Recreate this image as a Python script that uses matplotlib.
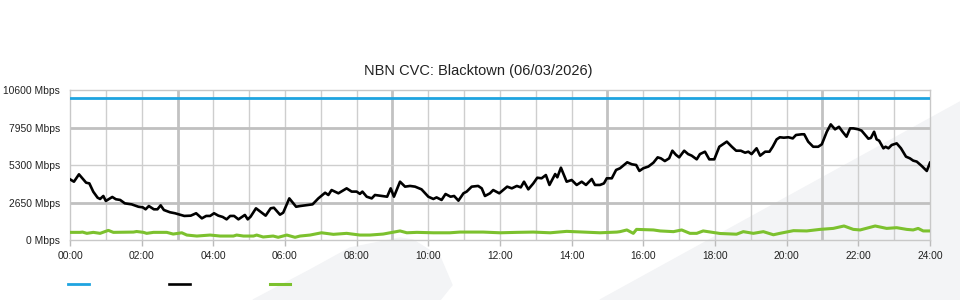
import matplotlib
matplotlib.use("Agg")
import matplotlib.pyplot as plt
from matplotlib.patches import Polygon
import numpy as np

plt.rcParams['font.family'] = ['Liberation Sans', 'DejaVu Sans']

# capacity line (Mbps)
capacity = 10000

# download traffic: hour of day, Mbps
dl_hours = [0.00, 0.11, 0.25, 0.45, 0.54, 0.65, 0.77, 0.84, 0.93, 1.00, 1.18, 1.28, 1.40, 1.53,
            1.72, 1.91, 2.03, 2.11, 2.20, 2.34, 2.44, 2.53, 2.62, 2.79, 2.93, 3.07, 3.19, 3.37,
            3.52, 3.68, 3.80, 3.91, 4.02, 4.14, 4.26, 4.37, 4.47, 4.58, 4.70, 4.88, 4.96, 5.04,
            5.19, 5.30, 5.46, 5.60, 5.69, 5.86, 5.95, 6.12, 6.31, 6.42, 6.77, 6.93, 7.12, 7.21,
            7.30, 7.49, 7.72, 7.86, 8.00, 8.09, 8.16, 8.28, 8.42, 8.51, 8.70, 8.85, 8.95, 9.04,
            9.21, 9.35, 9.49, 9.63, 9.81, 10.00, 10.14, 10.23, 10.37, 10.48, 10.62, 10.72, 10.84,
            10.98, 11.07, 11.21, 11.39, 11.49, 11.58, 11.72, 11.81, 11.98, 12.06, 12.20, 12.33,
            12.47, 12.58, 12.67, 12.79, 12.93, 13.04, 13.16, 13.28, 13.38, 13.54, 13.60, 13.70,
            13.86, 14.00, 14.14, 14.28, 14.40, 14.56, 14.65, 14.79, 14.90, 14.98, 15.12, 15.24,
            15.35, 15.55, 15.68, 15.80, 15.89, 16.00, 16.14, 16.28, 16.40, 16.49, 16.60, 16.72,
            16.81, 16.91, 17.00, 17.14, 17.25, 17.35, 17.49, 17.58, 17.72, 17.84, 17.98, 18.12,
            18.33, 18.47, 18.59, 18.72, 18.84, 18.93, 19.02, 19.16, 19.26, 19.40, 19.52, 19.61,
            19.72, 19.81, 19.92, 20.05, 20.17, 20.26, 20.42, 20.49, 20.60, 20.74, 20.88, 20.98,
            21.12, 21.23, 21.35, 21.46, 21.56, 21.67, 21.77, 21.86, 22.00, 22.09, 22.28, 22.35,
            22.44, 22.51, 22.58, 22.70, 22.76, 22.84, 22.93, 23.07, 23.19, 23.33, 23.44, 23.53,
            23.63, 23.77, 23.91, 24.00]
dl_mbps = [4290, 4120, 4640, 4050, 4000, 3410, 2990, 2900, 3110, 2760, 3040, 2880, 2830, 2590,
           2520, 2350, 2310, 2170, 2400, 2170, 2170, 2450, 2120, 1960, 1890, 1790, 1700, 1720,
           1890, 1530, 1700, 1700, 1890, 1720, 1630, 1460, 1700, 1700, 1460, 1770, 1460, 1650,
           2240, 2030, 1720, 2240, 2280, 1790, 1930, 2940, 2350, 2400, 2520, 2940, 3340, 3180,
           3530, 3300, 3650, 3420, 3420, 3260, 3420, 3060, 2940, 3180, 3110, 3060, 3650, 3060,
           4120, 3770, 3820, 3770, 3580, 3060, 2900, 3010, 2830, 3250, 3060, 3110, 2780,
           3300, 3420, 3770, 3820, 3650, 3110, 3300, 3530, 3300, 3470, 3770, 3650,
           3820, 3720, 4120, 3580, 4000, 4400, 4360, 4590, 3890, 4660, 4430, 5110,
           4120, 4240, 3890, 4120, 3890, 4310, 3890, 3890, 4000, 4360, 4360, 4950,
           5070, 5490, 5350, 5300, 4880, 5070, 5190, 5460, 5840, 5770, 5580, 5770,
           6310, 6020, 5840, 6310, 6070, 5960, 5700, 6070, 6240, 5700, 5700, 6590,
           6950, 6590, 6310, 6310, 6170, 6240, 6070, 6480, 5960, 6240, 6240, 6590,
           7110, 7260, 7230, 7260, 7180, 7420, 7470, 7470, 6950, 6590, 6590, 6760,
           7650, 8170, 7820, 8000, 7650, 7300, 7890, 7890, 7820, 7730, 7160, 7210,
           7650, 7110, 7020, 6480, 6590, 6480, 6710, 6830, 6480, 5890, 5770, 5610,
           5540, 5230, 4880, 5460]

# upload traffic: hour of day, Mbps
ul_hours = [0.00, 0.28, 0.35, 0.47, 0.65, 0.84, 1.07, 1.21, 1.77, 1.86, 2.05, 2.14, 2.33, 2.70,
            2.88, 3.12, 3.26, 3.54, 3.91, 4.19, 4.56, 4.65, 4.84, 5.12, 5.21, 5.39, 5.67, 5.81,
            6.05, 6.28, 6.42, 6.70, 7.02, 7.35, 7.72, 8.09, 8.37, 8.74, 9.21, 9.40, 9.68, 10.14,
            10.60, 10.88, 11.53, 12.00, 12.47, 12.93, 13.40, 13.86, 14.33, 14.79, 15.26, 15.35,
            15.54, 15.72, 15.81, 16.28, 16.47, 16.84, 17.07, 17.30, 17.49, 17.67, 18.14, 18.60,
            18.79, 19.07, 19.35, 19.63, 19.81, 20.19, 20.56, 20.93, 21.30, 21.60, 21.86, 22.05,
            22.47, 22.79, 23.07, 23.35, 23.53, 23.67, 23.81, 24.00]
ul_mbps = [540, 540, 560, 470, 540, 470, 680, 540, 560, 600, 540, 470, 540, 540,
           420, 510, 350, 280, 350, 280, 280, 350, 280, 280, 350, 213, 280, 190,
           350, 190, 280, 350, 510, 400, 470, 350, 350, 420, 640, 510, 540, 510,
           510, 560, 560, 510, 540, 560, 510, 610, 560, 510, 560, 590,
           710, 470, 750, 710, 640, 590, 710, 470, 470, 640, 460, 410,
           590, 470, 590, 370, 470, 660, 640, 750, 820, 990, 750, 710,
           990, 820, 870, 750, 710, 820, 640, 640]

y_ticks = [0, 2650, 5300, 7950, 10600]
x_ticks = list(range(0, 25, 2))
x_labels = [f"{h:02d}:00" for h in x_ticks]

fig = plt.figure(figsize=(9.6, 3.0), dpi=100)
ax = fig.add_axes([70 / 960, 1 - 240 / 300, 860 / 960, 150 / 300])
ax.set_facecolor('none')

# faint watermark shapes in the background
wm = '#f3f4f6'
fig.add_artist(Polygon([(253 / 960, 0), (310 / 960, 30 / 300), (350 / 960, 52 / 300),
                        (400 / 960, 62 / 300), (413 / 960, 60 / 300), (440 / 960, 43 / 300),
                        (452 / 960, 15 / 300), (440 / 960, 0)],
                       closed=True, transform=fig.transFigure, color=wm, zorder=-10))
fig.add_artist(Polygon([(600 / 960, 0), (960 / 960, 198 / 300), (960 / 960, 0)],
                       closed=True, transform=fig.transFigure, color=wm, zorder=-10))

# grid
for h in range(1, 24):
    if h % 6 == 3:
        ax.axvline(h, color='#c2c2c2', lw=2, zorder=1)
    else:
        ax.axvline(h, color='#cecece', lw=1, zorder=1)
for v in [2650, 7950]:
    ax.axhline(v, color='#c0c0c0', lw=2, zorder=1)
ax.axhline(5300, color='#cecece', lw=1, zorder=1)

ax.axhline(capacity, color='#1ea4e0', lw=2, zorder=3, label=' ')
ax.plot(dl_hours, dl_mbps, color='black', lw=1.9, zorder=4, label=' ')
ax.plot(ul_hours, ul_mbps, color='#7cc12e', lw=2.2, zorder=3, label=' ')

ax.set_xlim(0, 24)
ax.set_ylim(0, 10600)
ax.set_yticks(y_ticks)
ax.set_yticklabels([f"{v} Mbps" for v in y_ticks])
ax.set_xticks(x_ticks)
ax.set_xticklabels(x_labels)
ax.tick_params(axis='y', length=0, pad=7, labelsize=7.4, colors='#222222')
ax.tick_params(axis='x', length=4, width=1, color='#bbbbbb', pad=4, labelsize=7.4,
               labelcolor='#222222')
for s in ax.spines.values():
    s.set_color('#c8c8c8')
    s.set_linewidth(1)

fig.text(0.498, 1 - 71 / 300, 'NBN CVC: Blacktown (06/03/2026)', ha='center', va='center',
         fontsize=10.5, color='#222222')

handles, labels = ax.get_legend_handles_labels()
fig.legend(handles, labels, loc='center left', bbox_to_anchor=(68 / 960, 1 - 285 / 300),
           ncol=3, frameon=False, handlelength=2.0, handletextpad=0.0, columnspacing=7.4,
           borderpad=0, borderaxespad=0, fontsize=7.5)

fig.savefig('out.png', dpi=100)
